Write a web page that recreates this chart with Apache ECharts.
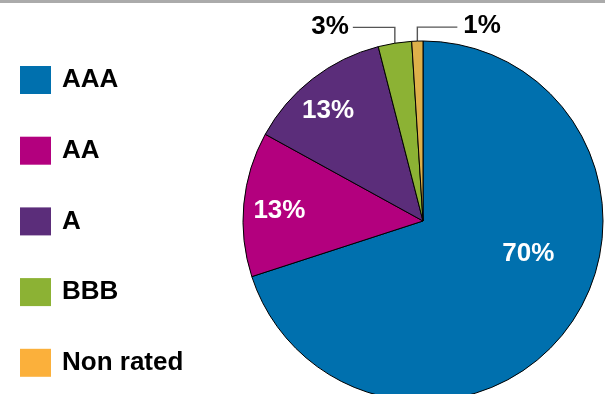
<!DOCTYPE html>
<html>
<head>
<meta charset="utf-8">
<script src="https://cdn.jsdelivr.net/npm/echarts@6/dist/echarts.min.js"></script>
<style>
html,body{margin:0;padding:0;background:#fff;}
#main{width:605px;height:394px;}
</style>
</head>
<body>
<div id="main"></div>
<script>
var categories = ['AAA', 'AA', 'A', 'BBB', 'Non rated'];
var values = [70, 13, 13, 3, 1];
var sliceColors = ['#0070AE', '#B3007E', '#5B2D7A', '#8CB234', '#DEB04A'];
var legendColors = ['#0070AE', '#B3007E', '#5B2D7A', '#8CB234', '#FBB03B'];

var FONT = "'Liberation Sans', Arial, sans-serif";

// label styling per slice (inside for large slices, outside for small ones)
var insideOffsets = [[30, -22], [-51, -1], [-38, -37]];

var data = categories.map(function (c, i) {
  var item = { name: c, value: values[i], itemStyle: { color: sliceColors[i] } };
  if (i < 3) {
    item.label = { position: 'inside', color: '#fff', offset: insideOffsets[i] };
  } else {
    item.label = { position: 'outside', color: '#000' };
    item.labelLine = { show: true, length: i === 3 ? 16 : 14, length2: 42 };
  }
  return item;
});

var chart = echarts.init(document.getElementById('main'), null, { renderer: 'canvas' });
chart.setOption({
  animation: false,
  backgroundColor: '#fff',
  graphic: [{
    type: 'rect', left: 0, top: 0, z: 100,
    shape: { width: 605, height: 3 },
    style: { fill: '#ABABAB' }
  }],
  legend: {
    orient: 'vertical',
    left: 20,
    top: 66,
    padding: 0,
    itemWidth: 31,
    itemHeight: 28,
    itemGap: 42.7,
    icon: 'rect',
    selectedMode: false,
    itemStyle: { borderWidth: 0 },
    textStyle: { fontSize: 26, fontWeight: 'bold', color: '#000', fontFamily: FONT, padding: [0, 0, 0, 6] },
    data: categories.map(function (c, i) {
      return { name: c, itemStyle: { color: legendColors[i], borderWidth: 0 } };
    })
  },
  series: [{
    type: 'pie',
    center: [423, 221],
    radius: 180,
    startAngle: 90,
    clockwise: true,
    avoidLabelOverlap: false,
    itemStyle: { borderColor: '#000', borderWidth: 1 },
    emphasis: { disabled: true },
    label: {
      show: true,
      fontSize: 26,
      fontWeight: 'bold',
      fontFamily: FONT,
      formatter: function (p) { return p.value + '%'; }
    },
    labelLine: { lineStyle: { color: '#555', width: 1.4 }, smooth: false },
    labelLayout: function (p) {
      if (p.dataIndex < 3 || !p.labelLinePoints) return {};
      var pts = p.labelLinePoints;
      var p0 = pts[0], p1 = pts[1], p2 = pts[2];
      var len2 = Math.abs(p2[0] - p1[0]);
      var Y = p1[1];
      if (p.dataIndex === 3) {
        var q2 = [p0[0] - len2, Y];
        return {
          x: q2[0] - 4, y: Y - 1, align: 'right', verticalAlign: 'middle',
          labelLinePoints: [[p0[0], p0[1]], [p0[0], Y], q2]
        };
      } else {
        var r2 = [p0[0] + len2 - 2, Y];
        return {
          x: r2[0] + 6, y: Y - 1, align: 'left', verticalAlign: 'middle',
          labelLinePoints: [[p0[0], p0[1]], [p0[0], Y], r2]
        };
      }
    },
    data: data
  }]
});
</script>
</body>
</html>
